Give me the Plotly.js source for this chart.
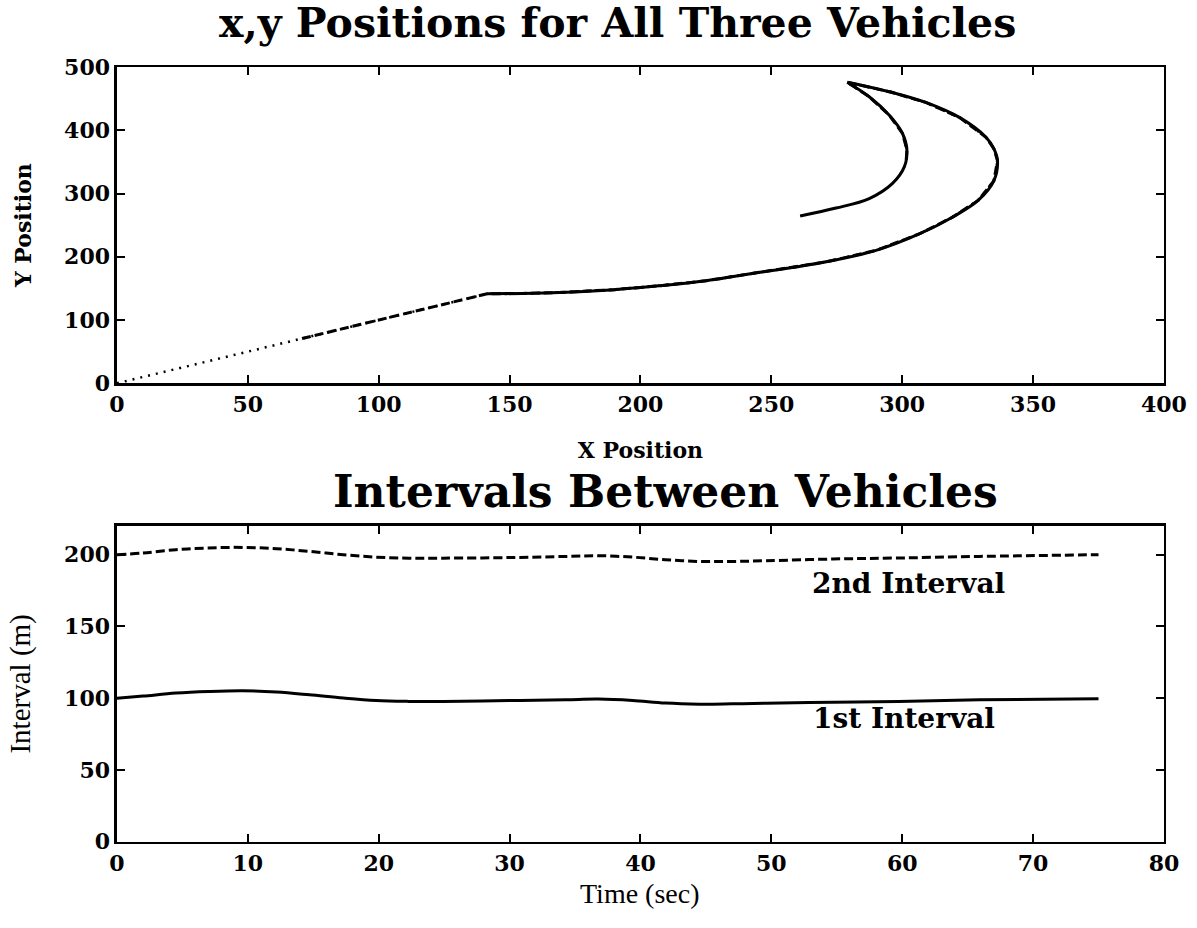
<!DOCTYPE html>
<html><head><meta charset="utf-8">
<script src="https://cdn.plot.ly/plotly-3.0.1.min.js"></script>
<style>body{margin:0;background:#fff}</style>
</head><body><div id="chart" style="width:1197px;height:928px"></div>
<script>
// ---- Top plot: x,y positions ----
// Lead vehicle: outer sweep up to the turn-around point, then the inner return leg
const leaderOuterX = [141.4, 155, 169, 190, 207, 225, 245, 258, 271, 290, 306.5, 319, 329, 335, 336.4, 335, 332, 322, 309, 296, 279];
const leaderOuterY = [141.4, 142, 143.5, 148, 154, 162, 175, 183, 192, 210, 236, 262, 289, 320, 352, 371, 389, 420, 444, 460, 476];
const leaderInnerX = [279, 287.4, 295, 300.1, 301.8, 300.8, 296.3, 287.4, 274.7, 261];
const leaderInnerY = [476, 453, 424, 395, 369, 342, 316, 292, 277, 264.5];
// Followers start 100 m and 200 m behind on the same path
const vehicle2X = [70.7, 141.4, 155, 169, 190, 207, 225, 245, 258, 271, 290, 306.5, 319, 329, 335, 336.4, 335, 332, 322, 309, 296, 279, 287.4, 295, 300.1, 301.8, 301.5];
const vehicle2Y = [70.7, 141.4, 142, 143.5, 148, 154, 162, 175, 183, 192, 210, 236, 262, 289, 320, 352, 371, 389, 420, 444, 460, 476, 453, 424, 395, 369, 352];
const vehicle3X = [0, 70.7, 141.4, 155, 169, 190, 207, 225, 245, 258, 271, 290, 306.5, 319, 329, 335, 336.4, 335, 332, 322, 309, 296, 279, 287.4];
const vehicle3Y = [0, 70.7, 141.4, 142, 143.5, 148, 154, 162, 175, 183, 192, 210, 236, 262, 289, 320, 352, 371, 389, 420, 444, 460, 476, 453];

// ---- Bottom plot: intervals between vehicles ----
const timeSec = [0, 2, 4.5, 7, 9.6, 12.2, 14.7, 17.3, 19.8, 22.3, 24.9, 30, 34.3, 36.8, 39.4, 41.9, 44.5, 47, 49.6, 54.7, 59.7, 65.9, 75];
const interval2 = [200, 201.2, 203.5, 204.7, 205.1, 204.2, 202.3, 200, 198.3, 197.6, 197.6, 198, 198.8, 199.3, 198.3, 196.5, 195.3, 195.3, 195.8, 197, 197.7, 198.8, 200];
const interval1 = [100, 101.5, 103.6, 104.7, 105.2, 104.3, 102.4, 100.1, 98.4, 97.8, 97.7, 98.4, 99, 99.4, 98.4, 96.6, 95.9, 96.1, 96.5, 97.2, 97.7, 98.9, 99.6];

const topXTicks = [0, 50, 100, 150, 200, 250, 300, 350, 400];
const topYTicks = [0, 100, 200, 300, 400, 500];
const botXTicks = [0, 10, 20, 30, 40, 50, 60, 70, 80];
const botYTicks = [0, 50, 100, 150, 200];

const black = '#000';
const tickFont = {family: 'DejaVu Serif', size: 22, color: black, weight: 'bold'};

const traces = [
  {x: vehicle3X, y: vehicle3Y, xaxis: 'x', yaxis: 'y', mode: 'lines', line: {color: black, width: 2.5, dash: '2px,6px'}, showlegend: false, hoverinfo: 'skip'},
  {x: vehicle2X, y: vehicle2Y, xaxis: 'x', yaxis: 'y', mode: 'lines', line: {color: black, width: 3, dash: '9px,4px'}, showlegend: false, hoverinfo: 'skip'},
  {x: leaderOuterX, y: leaderOuterY, xaxis: 'x', yaxis: 'y', mode: 'lines', line: {color: black, width: 3, shape: 'spline', smoothing: 1}, showlegend: false, hoverinfo: 'skip'},
  {x: leaderInnerX, y: leaderInnerY, xaxis: 'x', yaxis: 'y', mode: 'lines', line: {color: black, width: 3, shape: 'spline', smoothing: 1}, showlegend: false, hoverinfo: 'skip'},
  {x: timeSec, y: interval2, xaxis: 'x2', yaxis: 'y2', mode: 'lines', line: {color: black, width: 3, dash: '9px,4px', shape: 'spline'}, showlegend: false, hoverinfo: 'skip'},
  {x: timeSec, y: interval1, xaxis: 'x2', yaxis: 'y2', mode: 'lines', line: {color: black, width: 3, shape: 'spline'}, showlegend: false, hoverinfo: 'skip'}
];

const axisBase = {
  showline: true, linecolor: black, linewidth: 2.5, mirror: 'allticks',
  ticks: 'inside', ticklen: 8, tickwidth: 2, tickcolor: black,
  showgrid: false, zeroline: false, tickfont: tickFont, fixedrange: true
};

const layout = {
  width: 1197, height: 928,
  margin: {l: 0, r: 0, t: 0, b: 0},
  paper_bgcolor: '#fff', plot_bgcolor: '#fff',
  showlegend: false,
  xaxis: Object.assign({}, axisBase, {domain: [0.0977, 0.9724], range: [0, 400], tickvals: topXTicks, anchor: 'y',
    title: {text: 'X Position', font: {family: 'DejaVu Serif', size: 22, color: black, weight: 'bold'}, standoff: 27}}),
  yaxis: Object.assign({}, axisBase, {domain: [0.587, 0.9278], range: [0, 500], tickvals: topYTicks, anchor: 'x',
    title: {text: 'Y Position', font: {family: 'DejaVu Serif', size: 22, color: black, weight: 'bold'}, standoff: 27}}),
  xaxis2: Object.assign({}, axisBase, {domain: [0.0977, 0.9724], range: [0, 80], tickvals: botXTicks, anchor: 'y2'}),
  yaxis2: Object.assign({}, axisBase, {domain: [0.0929, 0.4332], range: [0, 220], tickvals: botYTicks, anchor: 'x2',
    title: {text: 'Interval (m)', font: {family: 'Liberation Serif', size: 29, color: black}, standoff: 25}}),
  annotations: [
    {text: 'x,y Positions for All Three Vehicles', xref: 'paper', yref: 'paper', x: 0.516, y: 0.975, xanchor: 'center', yanchor: 'middle', showarrow: false,
     font: {family: 'DejaVu Serif', size: 41, color: black, weight: 'bold'}},
    {text: 'Intervals Between Vehicles', xref: 'paper', yref: 'paper', x: 0.556, y: 0.4705, xanchor: 'center', yanchor: 'middle', showarrow: false,
     font: {family: 'DejaVu Serif', size: 44, color: black, weight: 'bold'}},
    {text: 'Time (sec)', xref: 'paper', yref: 'paper', x: 0.535, y: 0.0555, xanchor: 'center', yanchor: 'top', showarrow: false,
     font: {family: 'Liberation Serif', size: 28, color: black}},
    {text: '2nd Interval', xref: 'x2', yref: 'y2', x: 60.5, y: 180, xanchor: 'center', yanchor: 'middle', showarrow: false,
     font: {family: 'DejaVu Serif', size: 28, color: black, weight: 'bold'}},
    {text: '1st Interval', xref: 'x2', yref: 'y2', x: 60.1, y: 86, xanchor: 'center', yanchor: 'middle', showarrow: false,
     font: {family: 'DejaVu Serif', size: 28, color: black, weight: 'bold'}}
  ]
};

Plotly.newPlot('chart', traces, layout, {displayModeBar: false, staticPlot: true});
</script>
</body></html>
